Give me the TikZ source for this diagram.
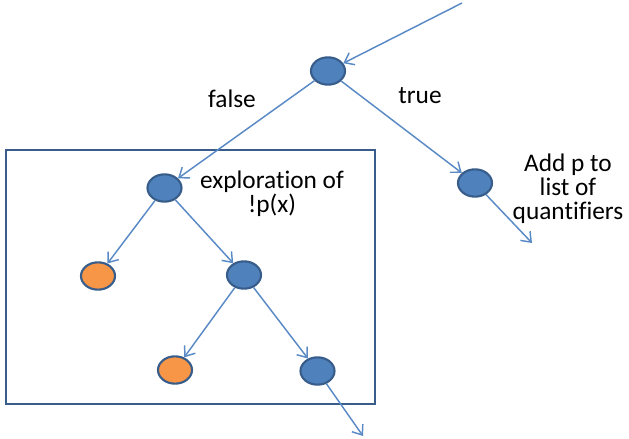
\documentclass[tikz,border=0pt]{standalone}
\usepackage{fontspec}
\setmainfont[Ligatures=NoCommon]{Carlito}
\usetikzlibrary{shapes.geometric,arrows.meta}
\definecolor{nodeblue}{HTML}{4F81BD}
\definecolor{nodeedge}{HTML}{385D8A}
\definecolor{leaforange}{HTML}{F79646}
\definecolor{linkblue}{HTML}{5A8AC6}
\tikzset{
  tnode/.style={ellipse, draw=nodeedge, line width=1.6pt, fill=nodeblue,
    minimum width=25.5pt, minimum height=20.5pt, inner sep=0pt},
  leaf/.style={tnode, fill=leaforange},
  link/.style={draw=linkblue, line width=1.1pt,
    -{Straight Barb[length=6.5pt,width=10pt,line width=1.1pt]}},
  lbl/.style={font=\fontsize{19}{18}\selectfont, align=center, inner sep=0pt},
}
\begin{document}
\begin{tikzpicture}[x=0.75pt,y=-0.75pt]
\useasboundingbox (0,0) rectangle (629,439);
% frame around the explored subtree
\draw[draw=nodeedge, line width=2.2pt] (6,150) rectangle (375,404);
% tree nodes
\node[tnode] (root) at (328,71) {};
\node[tnode] (tr) at (475,183) {};
\node[tnode] (l1) at (164.5,188) {};
\node[leaf] (o1) at (98,276) {};
\node[tnode] (mid) at (244,275) {};
\node[leaf] (o2) at (175,370) {};
\node[tnode] (rt) at (317.5,371) {};
% free ends
\coordinate (in) at (462,3);
\coordinate (e1) at (532,243);
\coordinate (e2) at (363,436);
% connectors
\draw[link] (in) -- (root);
\draw[link] (root) -- (l1);
\draw[link] (root) -- (tr);
\draw[link] (tr) -- (e1);
\draw[link] (l1) -- (o1);
\draw[link] (l1) -- (mid);
\draw[link] (mid) -- (o2);
\draw[link] (mid) -- (rt);
\draw[link] (rt) -- (e2);
% labels
\node[lbl] (lf) at (232,99) {false};
\node[lbl] (lt) at (420,96) {true};
\node[lbl] (lx) at (272,194) {exploration of\\!p(x)};
\node[lbl] (la) at (568,189) {Add p to\\list of\\quantifiers};
\end{tikzpicture}
\end{document}
